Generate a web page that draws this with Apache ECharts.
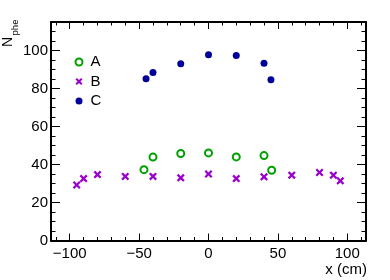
<!DOCTYPE html>
<html>
<head>
<meta charset="utf-8">
<script src="https://cdn.jsdelivr.net/npm/echarts@6/dist/echarts.min.js"></script>
<style>html,body{margin:0;padding:0;background:#fff}#c{width:390px;height:280px}</style>
</head>
<body>
<div id="c"></div>
<script>
// ---- data ----
var seriesNames = ['A', 'B', 'C'];
var xA = [-46.5, -40, -20, 0, 20, 40, 45.5];
var yA = [37.3, 43.9, 45.8, 46.1, 44.0, 44.7, 37.0];
var xB = [-95, -90, -80, -60, -40, -20, 0, 20, 40, 60, 80, 90, 95];
var yB = [29.2, 32.6, 34.7, 33.7, 33.7, 33.0, 35.0, 32.6, 33.5, 34.4, 35.8, 34.4, 31.4];
var xC = [-45, -40, -20, 0, 20, 40, 45];
var yC = [85.1, 88.4, 93.0, 97.7, 97.4, 93.3, 84.6];
var xMajorTicks = [-100, -50, 0, 50, 100];
var xMinorTicks = [-110, -100, -90, -80, -70, -60, -50, -40, -30, -20, -10, 0, 10, 20, 30, 40, 50, 60, 70, 80, 90, 100, 110];
var yMajorTicks = [0, 20, 40, 60, 80, 100];
var yMinorTicks = [0, 5, 10, 15, 20, 25, 30, 35, 40, 45, 50, 55, 60, 65, 70, 75, 80, 85, 90, 95, 100, 105, 110];
var xRange = [-113.5, 113.5];
var yRange = [0, 115];
var xTitle = 'x (cm)';
var yTitleMain = 'N';
var yTitleSub = 'phe';

function zip(xs, ys) { return xs.map(function (x, i) { return [x, ys[i]]; }); }

var FONT = 'Liberation Sans';
var lineStyle = { color: '#000', width: 2 };
function minus(v) { return String(v).replace('-', '\u2212'); }

function xAxisDef(pos, major, showLine) {
  return {
    type: 'value', position: pos, min: xRange[0], max: xRange[1],
    axisLine: { show: showLine, onZero: false, lineStyle: lineStyle },
    axisTick: { show: true, inside: true, length: major ? 7 : 3.5, customValues: major ? xMajorTicks : xMinorTicks, lineStyle: { color: '#000', width: 1 } },
    axisLabel: (major && pos === 'bottom') ? { show: true, customValues: xMajorTicks, formatter: minus, fontFamily: FONT, fontSize: 15, color: '#000', margin: 6 } : { show: false },
    splitLine: { show: false }
  };
}
function yAxisDef(pos, major, showLine) {
  return {
    type: 'value', position: pos, min: yRange[0], max: yRange[1],
    axisLine: { show: showLine, onZero: false, lineStyle: lineStyle },
    axisTick: { show: true, inside: true, length: major ? 9 : 4.5, customValues: major ? yMajorTicks : yMinorTicks, lineStyle: { color: '#000', width: 1 } },
    axisLabel: (major && pos === 'left') ? { show: true, customValues: yMajorTicks, formatter: minus, fontFamily: FONT, fontSize: 15, color: '#000', margin: 3 } : { show: false },
    splitLine: { show: false }
  };
}

var xPath = 'path://M2,0L5,3L8,0L10,2L7,5L10,8L8,10L5,7L2,10L0,8L3,5L0,2Z';

var chart = echarts.init(document.getElementById('c'), null, { renderer: 'canvas' });
chart.setOption({
  animation: false,
  backgroundColor: '#fff',
  grid: { left: 51, right: 24, top: 22, bottom: 39.5, containLabel: false },
  xAxis: [xAxisDef('bottom', true, true), xAxisDef('bottom', false, false), xAxisDef('top', true, true), xAxisDef('top', false, false)],
  yAxis: [yAxisDef('left', true, true), yAxisDef('left', false, false), yAxisDef('right', true, true), yAxisDef('right', false, false)],
  legend: {
    data: seriesNames, orient: 'vertical', left: 69.5, top: 49.5,
    itemWidth: 7, itemHeight: 7, itemGap: 4.5,
    textStyle: { fontFamily: FONT, fontSize: 15, color: '#000', padding: [0, 0, 0, 3] }
  },
  series: [
    { name: seriesNames[0], type: 'scatter', data: zip(xA, yA), symbol: 'emptyCircle', symbolSize: 7,
      itemStyle: { color: '#00a000', borderColor: '#00a000', borderWidth: 2, opacity: 1 } },
    { name: seriesNames[1], type: 'scatter', data: zip(xB, yB), symbol: xPath, symbolSize: 8,
      itemStyle: { color: '#9900cc', opacity: 1 } },
    { name: seriesNames[2], type: 'scatter', data: zip(xC, yC), symbol: 'circle', symbolSize: 7,
      itemStyle: { color: '#000099', opacity: 1 } }
  ],
  graphic: [
    { type: 'text', x: 367, y: 270, style: { text: xTitle, fontFamily: FONT, fontSize: 15, fill: '#000', textAlign: 'right', textVerticalAlign: 'middle' } },
    { type: 'text', x: 8.5, y: 42, rotation: Math.PI / 2, style: { text: yTitleMain, fontFamily: FONT, fontSize: 14, fill: '#000', textAlign: 'center', textVerticalAlign: 'middle' } },
    { type: 'text', x: 15.5, y: 27.5, rotation: Math.PI / 2, style: { text: yTitleSub, fontFamily: FONT, fontSize: 9.5, fill: '#000', textAlign: 'center', textVerticalAlign: 'middle' } }
  ]
});
</script>
</body>
</html>
